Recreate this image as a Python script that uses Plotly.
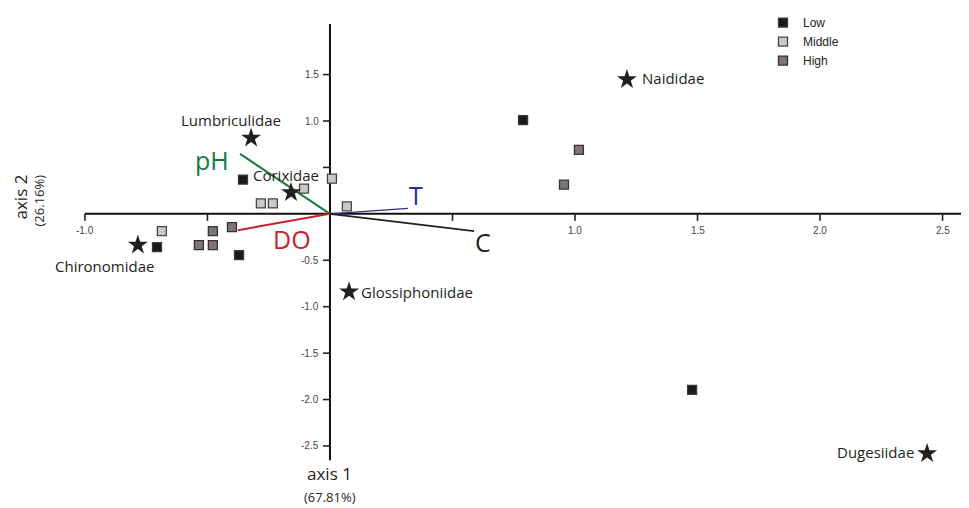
import plotly.graph_objects as go

# ---------------- data ----------------
low_x = [-0.355, -0.706, -0.371, 0.788, 1.478]
low_y = [0.369, -0.358, -0.444, 1.009, -1.896]
mid_x = [-0.106, 0.008, -0.282, -0.233, 0.069, -0.686]
mid_y = [0.272, 0.379, 0.112, 0.112, 0.080, -0.187]
high_x = [-0.478, -0.400, -0.535, -0.478, 1.016, 0.955]
high_y = [-0.187, -0.144, -0.336, -0.336, 0.689, 0.315]

species = ["Lumbriculidae", "Corixidae", "Chironomidae", "Naididae", "Glossiphoniidae", "Dugesiidae"]
sp_x = [-0.322, -0.159, -0.784, 1.212, 0.078, 2.437]
sp_y = [0.817, 0.230, -0.336, 1.448, -0.839, -2.580]

env_names = ["pH", "DO", "T", "C"]
env_x = [-0.367, -0.376, 0.318, 0.588]
env_y = [0.646, -0.176, 0.059, -0.187]

x_ticks = [-1.0, -0.5, 0.5, 1.0, 1.5, 2.0, 2.5]
x_tick_labels = ["-1.0", "", "", "1.0", "1.5", "2.0", "2.5"]
y_ticks = [1.5, 1.0, 0.5, -0.5, -1.0, -1.5, -2.0, -2.5]
y_tick_labels = ["1.5", "1.0", "", "-0.5", "-1.0", "-1.5", "-2.0", "-2.5"]

x_title = "axis 1"
x_sub = "(67.81%)"
y_title = "axis 2"
y_sub = "(26.16%)"

# ---------------- styling ----------------
# page body adds an 8px margin, so the figure is 961x500 and starts at (8, 8)
W, H = 961, 500
XR = [-1.314, 2.608]
YR = [-3.168, 2.174]
AX_X = [-1.0, 2.608]
AX_Y = [-2.655, 2.046]
SANS = "Open Sans"
TICKFONT = dict(family="Liberation Sans, Arial", size=10, color="#444444")
env_colors = ["#1b7a3e", "#c7202f", "#2e2d8c", "#231f20"]
env_widths = [2, 2, 1.2, 1.8]
env_shift = {"pH": (-28, -6), "DO": (54, -9), "T": (8, 13), "C": (9, -11)}
sp_style = {
    "Lumbriculidae": dict(xanchor="center", xshift=-20, yshift=18),
    "Corixidae": dict(xanchor="center", xshift=-5, yshift=18),
    "Chironomidae": dict(xanchor="center", xshift=-33, yshift=-21),
    "Naididae": dict(xanchor="left", xshift=13, yshift=1),
    "Glossiphoniidae": dict(xanchor="left", xshift=10, yshift=0),
    "Dugesiidae": dict(xanchor="right", xshift=-11, yshift=1),
}

fig = go.Figure()

# environmental vectors
for n, ex, ey, c, w in zip(env_names, env_x, env_y, env_colors, env_widths):
    fig.add_trace(go.Scatter(x=[0, ex], y=[0, ey], mode="lines",
                             line=dict(color=c, width=w), showlegend=False,
                             hoverinfo="skip"))
    dx, dy = env_shift[n]
    fig.add_annotation(x=ex, y=ey, text=n, showarrow=False, xshift=dx, yshift=dy,
                       font=dict(family=SANS, size=25, color=c))

# axes lines
fig.add_shape(type="line", x0=AX_X[0], x1=AX_X[1], y0=0, y1=0,
              line=dict(color="#111111", width=2), layer="below")
fig.add_shape(type="line", x0=0, x1=0, y0=AX_Y[0], y1=AX_Y[1],
              line=dict(color="#111111", width=2), layer="below")

for t, lab in zip(x_ticks, x_tick_labels):
    fig.add_shape(type="line", xref="x", yref="y", x0=t, x1=t,
                  ysizemode="pixel", yanchor=0, y0=0, y1=-7,
                  line=dict(color="#222222", width=1.6))
    if lab:
        fig.add_annotation(x=t, y=0, text=lab, showarrow=False, yshift=-17,
                           font=TICKFONT)
for t, lab in zip(y_ticks, y_tick_labels):
    fig.add_shape(type="line", xref="x", yref="y", y0=t, y1=t,
                  xsizemode="pixel", xanchor=0, x0=0, x1=-7,
                  line=dict(color="#222222", width=1.6))
    if lab:
        fig.add_annotation(x=0, y=t, text=lab, showarrow=False, xanchor="right",
                           xshift=-9, font=TICKFONT)

# sample points
sq = dict(symbol="square", size=9)
fig.add_trace(go.Scatter(x=low_x, y=low_y, mode="markers", name="Low",
                         marker=dict(**sq, color="#1a1a1a",
                                     line=dict(color="#3a3a3a", width=1.3))))
fig.add_trace(go.Scatter(x=mid_x, y=mid_y, mode="markers", name="Middle",
                         marker=dict(**sq, color="#cbc8c9",
                                     line=dict(color="#444444", width=1.3))))
fig.add_trace(go.Scatter(x=high_x, y=high_y, mode="markers", name="High",
                         marker=dict(**sq, color="#7f7579",
                                     line=dict(color="#333333", width=1.3))))

# species
fig.add_trace(go.Scatter(x=sp_x, y=sp_y, mode="markers", showlegend=False,
                         marker=dict(symbol="star", size=15, color="#231f20",
                                     line=dict(width=0))))
for n, sx, sy in zip(species, sp_x, sp_y):
    fig.add_annotation(x=sx, y=sy, text=n, showarrow=False,
                       font=dict(family=SANS, size=15, color="#231f20"),
                       **sp_style[n])

# axis titles
fig.add_annotation(x=0, y=AX_Y[0], text=x_title, showarrow=False, yshift=-13,
                   yanchor="middle",
                   font=dict(family=SANS, size=17, color="#231f20"))
fig.add_annotation(x=0, y=AX_Y[0], text=x_sub, showarrow=False, yshift=-37,
                   yanchor="middle",
                   font=dict(family=SANS, size=13, color="#231f20"))
fig.add_annotation(xref="paper", yref="paper", x=13 / W, y=1 - 187 / H,
                   xanchor="center", yanchor="middle", text=y_title, showarrow=False,
                   textangle=-90, font=dict(family=SANS, size=17, color="#231f20"))
fig.add_annotation(xref="paper", yref="paper", x=31 / W, y=1 - 190 / H,
                   xanchor="center", yanchor="middle", text=y_sub, showarrow=False,
                   textangle=-90, font=dict(family=SANS, size=13, color="#231f20"))

fig.update_layout(
    width=W, height=H,
    margin=dict(l=0, r=0, t=0, b=0),
    paper_bgcolor="white", plot_bgcolor="white",
    xaxis=dict(range=XR, visible=False, fixedrange=True),
    yaxis=dict(range=YR, visible=False, fixedrange=True),
    showlegend=True,
    legend=dict(x=(763 - 8) / W, y=1.008, xanchor="left", yanchor="top",
                font=dict(family="Liberation Sans, Arial", size=12, color="#231f20"),
                tracegroupgap=0, itemwidth=30, bgcolor="rgba(0,0,0,0)"),
)

fig.write_html("out.html")
